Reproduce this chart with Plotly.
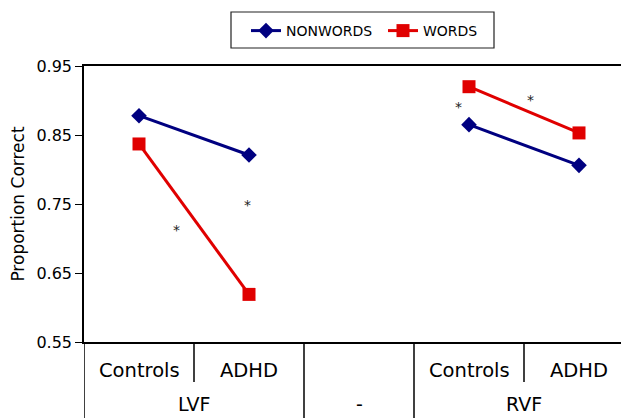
import plotly.graph_objects as go

# ---- data ----
categories = ["Controls", "ADHD", "", "Controls", "ADHD"]
groups = ["LVF", "-", "RVF"]
x_pos = [0, 1, 3, 4]  # category slots holding points
nonwords = [0.878, 0.821, 0.865, 0.806]
words = [0.837, 0.619, 0.920, 0.853]
y_ticks = [0.55, 0.65, 0.75, 0.85, 0.95]
star_x = [0.345, 0.982, 2.90, 3.555]
star_y = [0.713, 0.748, 0.891, 0.901]

NAVY = "#000080"
RED = "#e00000"
FONT = "DejaVu Sans"

# page body has an 8px default margin; compensate so the plot sits where the reference does
OFF = 8
W, H = 629 - OFF, 418 - OFF
L, T, B = 84 - OFF, 66 - OFF, 76
PW, PH = W - L, H - T - B


def px_to_paper_x(wx):
    return (wx - 84) / PW


def px_to_paper_y(wy):
    return (342 - wy) / PH


fig = go.Figure()
fig.add_trace(go.Scatter(
    x=[x_pos[0], x_pos[1], None, x_pos[2], x_pos[3]],
    y=[nonwords[0], nonwords[1], None, nonwords[2], nonwords[3]],
    mode="lines+markers", name="NONWORDS",
    line=dict(color=NAVY, width=3),
    marker=dict(symbol="diamond", size=12, color=NAVY),
    connectgaps=False,
))
fig.add_trace(go.Scatter(
    x=[x_pos[0], x_pos[1], None, x_pos[2], x_pos[3]],
    y=[words[0], words[1], None, words[2], words[3]],
    mode="lines+markers", name="WORDS",
    line=dict(color=RED, width=3),
    marker=dict(symbol="square", size=13, color=RED),
    connectgaps=False,
))

annotations = []
for sx, sy in zip(star_x, star_y):
    annotations.append(dict(x=sx, y=sy, xref="x", yref="y", text="*",
                            showarrow=False, font=dict(family=FONT, size=14, color="#222")))

# category labels (row 1)
for i, c in enumerate(categories):
    if c:
        annotations.append(dict(x=i, y=px_to_paper_y(370), xref="x", yref="paper", text=c,
                                showarrow=False, yanchor="middle",
                                font=dict(family=FONT, size=19.5, color="black")))
# group labels (row 2)
group_centers = [0.5, 2, 3.5]
for gx, g in zip(group_centers, groups):
    annotations.append(dict(x=gx, y=px_to_paper_y(404), xref="x", yref="paper", text=g,
                            showarrow=False, yanchor="middle",
                            font=dict(family=FONT, size=19, color="black")))

shapes = []
# full-height dividers
for dx in [-0.5, 1.5, 2.5]:
    shapes.append(dict(type="line", xref="x", yref="paper", x0=dx, x1=dx,
                       y0=0, y1=-0.35, line=dict(color="black", width=1.5)))
# short dividers inside groups
for dx in [0.5, 3.5]:
    shapes.append(dict(type="line", xref="x", yref="paper", x0=dx, x1=dx,
                       y0=0, y1=px_to_paper_y(382), line=dict(color="black", width=1.5)))
# legend frame
shapes.append(dict(type="rect", xref="paper", yref="paper",
                   x0=px_to_paper_x(231), x1=px_to_paper_x(494),
                   y0=px_to_paper_y(48), y1=px_to_paper_y(12),
                   line=dict(color="#222", width=1.2), fillcolor="rgba(0,0,0,0)"))

fig.update_layout(
    width=W, height=H,
    margin=dict(l=L, r=0, t=T, b=B, pad=0),
    paper_bgcolor="white", plot_bgcolor="white",
    font=dict(family=FONT, color="black"),
    showlegend=True,
    legend=dict(orientation="h", x=px_to_paper_x(246), xanchor="left",
                y=px_to_paper_y(15), yanchor="top",
                borderwidth=0, bgcolor="rgba(0,0,0,0)",
                entrywidth=92, entrywidthmode="pixels",
                font=dict(family=FONT, size=14, color="black")),
    xaxis=dict(range=[-0.5, -0.5 + PW / 110.0], showgrid=False, zeroline=False,
               showticklabels=False, ticks="", showline=True, mirror=True,
               linecolor="black", linewidth=1.5),
    yaxis=dict(range=[0.55, 0.95], tickvals=y_ticks,
               ticktext=[f"{v:.2f}" for v in y_ticks],
               showgrid=False, zeroline=False, showline=True,
               linecolor="black", linewidth=1.5, ticks="outside", ticklen=7,
               tickcolor="black", tickfont=dict(family=FONT, size=16),
               title=dict(text="Proportion Correct", font=dict(family=FONT, size=17),
                          standoff=10)),
    annotations=annotations,
    shapes=shapes,
)

fig.write_html("out.html")
